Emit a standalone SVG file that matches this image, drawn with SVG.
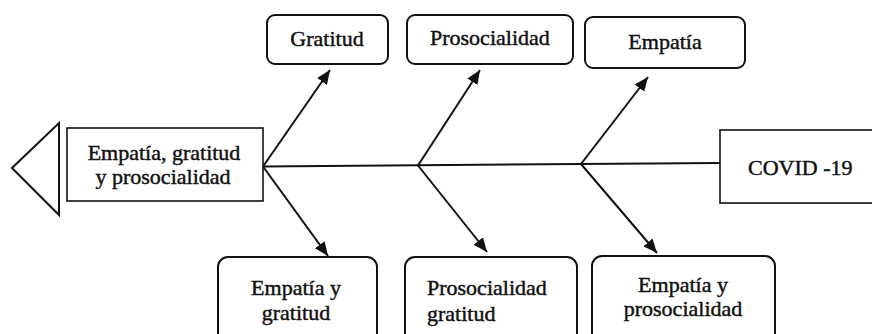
<svg xmlns="http://www.w3.org/2000/svg" width="872" height="334" viewBox="0 0 872 334">
<style>
.t{font-family:"Liberation Serif","Times New Roman",serif;font-size:22px;fill:#111;stroke:#111;stroke-width:0.45}
.rb{fill:#fff;stroke:#111;stroke-width:2}
.sb{fill:#fff;stroke:#111;stroke-width:1.6}
.c{stroke:#111;stroke-width:2;fill:none}
</style>
<defs>
<marker id="ah" markerUnits="userSpaceOnUse" markerWidth="16" markerHeight="14" refX="14" refY="6" orient="auto">
<path d="M0,0 L14,6 L0,12 Z" fill="#111"/>
</marker>
</defs>
<rect width="872" height="334" fill="#fff"/>
<g id="connectors">
<line class="c" x1="263" y1="166.5" x2="720" y2="163"/>
<line class="c" x1="263" y1="166.5" x2="330" y2="70" marker-end="url(#ah)"/>
<line class="c" x1="418" y1="165.5" x2="480" y2="70" marker-end="url(#ah)"/>
<line class="c" x1="581" y1="164" x2="648" y2="77" marker-end="url(#ah)"/>
<line class="c" x1="263" y1="166.5" x2="328" y2="256" marker-end="url(#ah)"/>
<line class="c" x1="418" y1="165.5" x2="487" y2="252" marker-end="url(#ah)"/>
<line class="c" x1="581" y1="164" x2="657" y2="253" marker-end="url(#ah)"/>
</g>
<g id="head-arrow">
<polygon points="12,168 59,123 59,215" fill="#fff" stroke="#111" stroke-width="2"/>
</g>
<g id="result">
<rect class="sb" x="67" y="128" width="196" height="73"/>
<text class="t" x="164" y="160" text-anchor="middle">Empatía, gratitud</text>
<text class="t" x="163" y="184" text-anchor="middle">y prosocialidad</text>
</g>
<g id="covid">
<rect class="sb" x="720" y="130" width="160" height="73"/>
<text class="t" x="748" y="175">COVID -19</text>
</g>
<g id="gratitud">
<rect class="rb" x="267" y="15" width="121" height="49" rx="8"/>
<text class="t" x="327" y="46" text-anchor="middle">Gratitud</text>
</g>
<g id="prosocialidad">
<rect class="rb" x="407" y="15" width="166" height="49" rx="8"/>
<text class="t" x="430" y="45">Prosocialidad</text>
</g>
<g id="empatia">
<rect class="rb" x="585" y="17" width="160" height="51" rx="8"/>
<text class="t" x="665" y="49" text-anchor="middle">Empatía</text>
</g>
<g id="empatia-gratitud">
<rect class="rb" x="218" y="257" width="159" height="90" rx="10"/>
<text class="t" x="296" y="295" text-anchor="middle">Empatía y</text>
<text class="t" x="296" y="320" text-anchor="middle">gratitud</text>
</g>
<g id="prosocialidad-gratitud">
<rect class="rb" x="405" y="257" width="172" height="90" rx="10"/>
<text class="t" x="427" y="295">Prosocialidad</text>
<text class="t" x="427" y="321">gratitud</text>
</g>
<g id="empatia-prosocialidad">
<rect class="rb" x="592" y="256" width="183" height="90" rx="10"/>
<text class="t" x="683" y="292" text-anchor="middle">Empatía y</text>
<text class="t" x="683" y="316" text-anchor="middle">prosocialidad</text>
</g>
</svg>
